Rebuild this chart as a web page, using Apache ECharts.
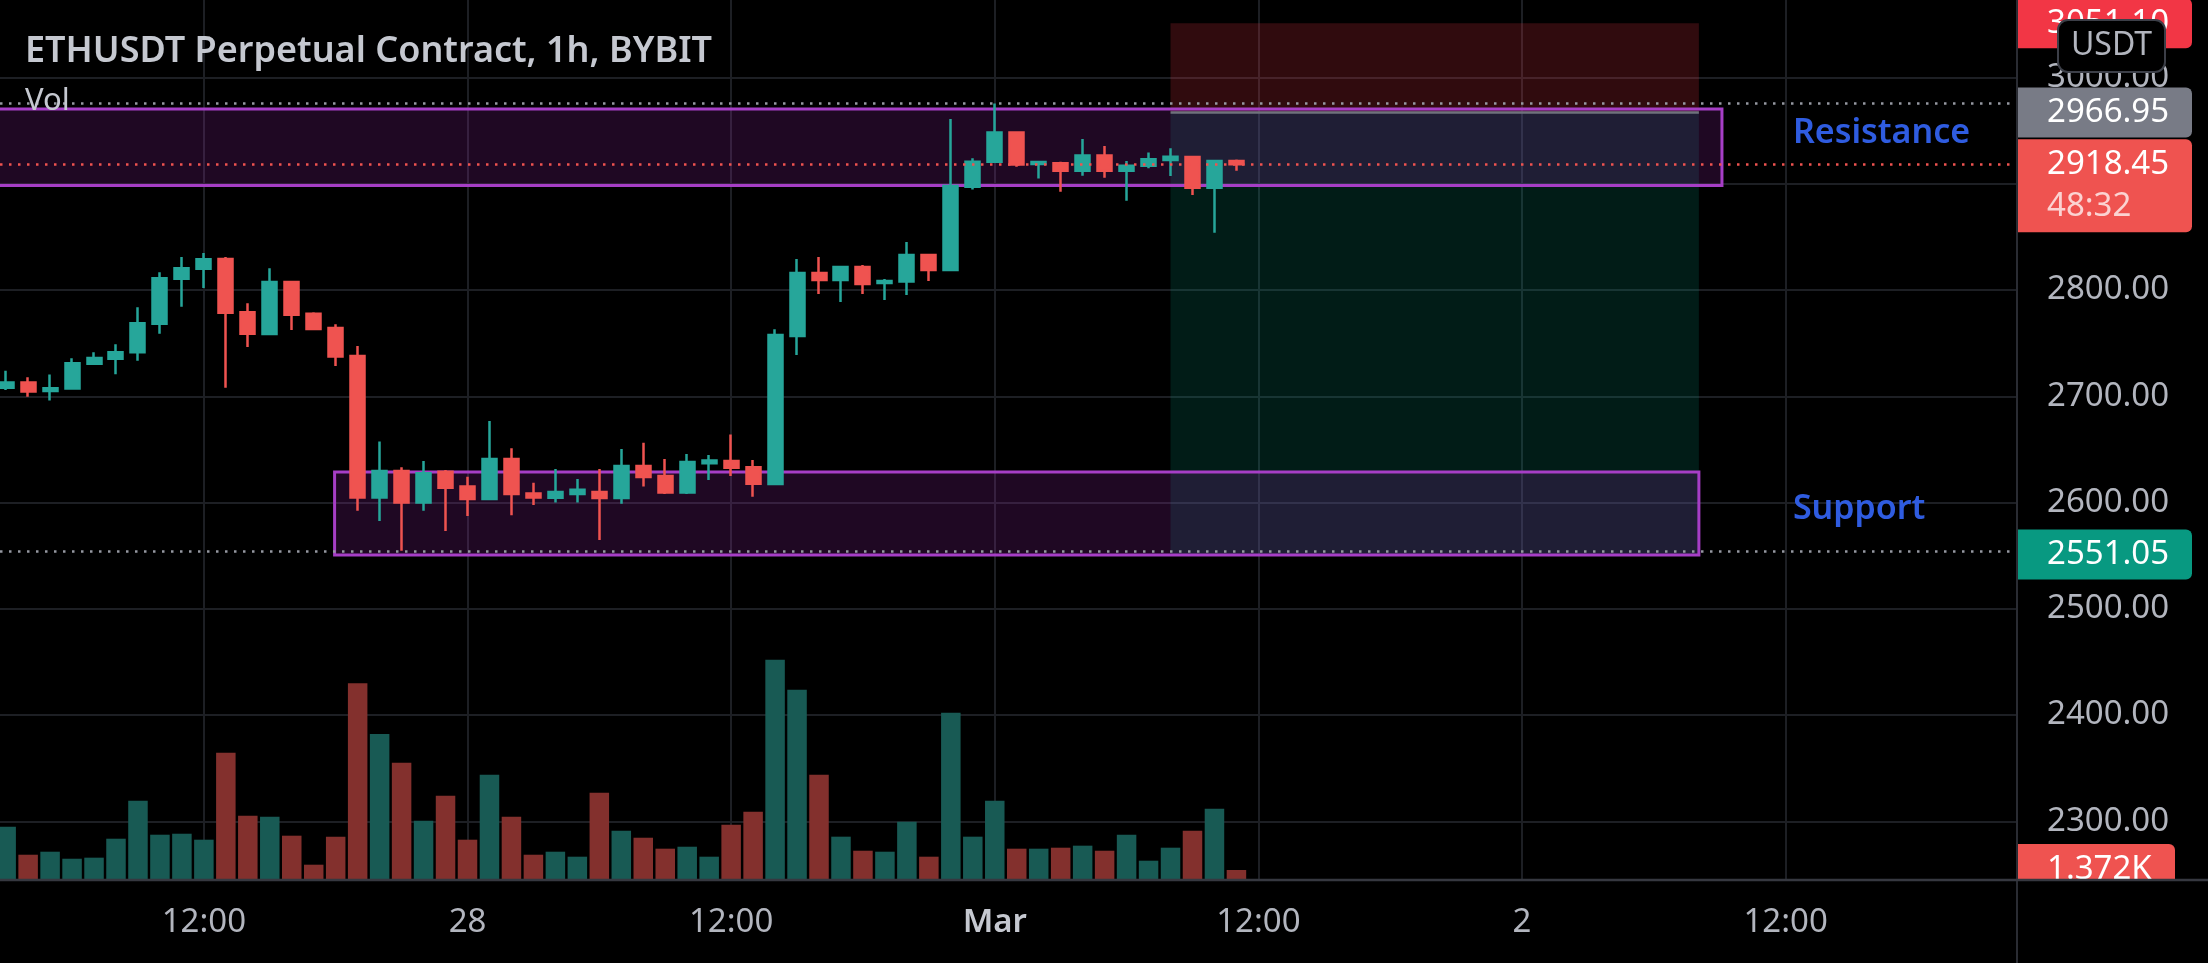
<!DOCTYPE html>
<html>
<head>
<meta charset="utf-8">
<script src="https://cdn.jsdelivr.net/npm/echarts@6.0.0/dist/echarts.min.js"></script>
<style>
html,body{margin:0;padding:0;background:#000;}
#chart{width:2208px;height:963px;}
</style>
</head>
<body>
<div id="chart"></div>
<script>
// ---- data (hours relative to 28 Feb 00:00) ----
const hours = [-21,-20,-19,-18,-17,-16,-15,-14,-13,-12,-11,-10,-9,-8,-7,-6,-5,-4,-3,-2,-1,0,1,2,3,4,5,6,7,8,9,10,11,12,13,14,15,16,17,18,19,20,21,22,23,24,25,26,27,28,29,30,31,32,33,34,35];
const opens = [2708,2713,2705,2707.2,2730.7,2735.4,2741.4,2768.3,2810.7,2820.1,
  2829.2,2779,2758.6,2807.6,2777.7,2764.3,2737.9,2604.6,2629.7,2599.9,
  2629,2615,2603.3,2641,2608.5,2604.5,2608,2609.9,2604.3,2634.4,
  2625,2609.3,2637,2639,2633.1,2617.4,2756.7,2816,2809.4,2821.7,
  2806.5,2807.9,2833,2818.8,2897.2,2920.7,2948.3,2918.5,2919.2,2912.3,
  2926.7,2912.3,2917,2922.3,2925.1,2896.3,2921.4];
const closes = [2713,2704.5,2707.5,2731,2736,2741.4,2768.6,2811,2820.4,2828.9,
  2778.7,2758.9,2807.6,2776.8,2763.3,2737.3,2604.6,2629.7,2599.9,2627.5,
  2614,2603.3,2641,2608,2604.8,2609.8,2611.9,2604.3,2634.4,2624,
  2609.3,2638.2,2639.5,2632.8,2617.6,2757.7,2816,2809.4,2821.7,2805.7,
  2808.5,2833,2818.8,2897.8,2920.7,2948.3,2918.2,2920.5,2912.3,2926.7,
  2912.3,2917,2923,2925.5,2896.3,2921.4,2918.45];
const lows = [2706,2699.5,2696,2706.5,2730,2720.6,2733.5,2758.9,2784.3,2801.9,
  2708.1,2746.4,2757.7,2762.4,2762.4,2728.5,2592.3,2582.6,2554.5,2592.3,
  2573.2,2587.3,2603,2588,2597.7,2599.9,2599.9,2564.7,2598.9,2615,
  2608,2608,2621.2,2625,2605.5,2617,2738.8,2796.3,2788.7,2796.3,
  2790.6,2795.3,2808.5,2818,2894.7,2920,2916,2905,2892.5,2907.6,
  2905.7,2884,2914.5,2907.3,2889.4,2853.9,2912.3];
const highs = [2724,2718,2720.5,2735.7,2741.4,2748.9,2783.7,2816.7,2831.1,2834.8,
  2831.1,2787.5,2820.4,2808,2779,2767.7,2747.3,2657.3,2633.1,2639.1,
  2630.6,2624.3,2676.7,2651,2618.5,2631.5,2622.1,2631.6,2650.4,2656.3,
  2641,2645.7,2644.7,2663.9,2640,2763,2829.2,2831.1,2822,2823.6,
  2810.4,2845.2,2833,2960.9,2923.9,2975.6,2949,2921,2920.7,2942,
  2935.5,2921.4,2929.5,2933.3,2925.1,2921.4,2922.9];
const volumes = [7970,3700,4160,3090,3250,6140,11930,6750,6900,5990,
  19250,9650,9500,6600,2180,6450,29830,22100,17720,8890,
  12700,5990,15900,9500,3700,4160,3400,13150,7360,6290,
  4620,4920,3400,8280,10260,33420,28850,15900,6450,4310,
  4160,8730,3400,25340,6450,11930,4620,4620,4770,5080,
  4310,6750,2790,4770,7360,10710,1372];

const xTickHours = [-12, 0, 12, 24, 36, 48, 60];
const xTickLabels = ['12:00', '28', '12:00', 'Mar', '12:00', '2', '12:00'];
const yTickValues = [2300, 2400, 2500, 2600, 2700, 2800, 2900, 3000];

const lastPrice = 2918.45;
const entryPrice = 2966.95;
const stopPrice = 3051.10;
const targetPrice = 2551.05;
const positionStart = 32;
const positionEnd = 56.05;
const resistanceZone = [-30, 57.1, 2898.4, 2970.4];   // [t1, t2, low, high]
const supportZone = [-6.05, 56.05, 2550.6, 2628.7];
const zoneLabelTexts = ['Resistance', 'Support'];
const zoneLabelAnchors = [[60.33, 2947.0], [60.33, 2593.2]];
const countdownText = '48:32';
const lastVolumeText = '1.372K';

// ---- layout / style constants ----
const X_MIN = -21.28, X_MAX = 70.53;
const Y_MIN = 2245.65, Y_MAX = 3072.94;
const VOL_MAX = 133960;
const UP = '#26a69a', DOWN = '#ef5350';
const UP_VOL = '#185a54', DOWN_VOL = '#83302d';
const FONT = '"Noto Sans", sans-serif';
const AXIS_TXT = '#b2b5be';
const GRID_LINE = '#1d1f24';

const candleData = hours.map((t, i) => [t, opens[i], closes[i], lows[i], highs[i]]);
const volumeData = hours.map((t, i) => [t, volumes[i]]);
const maxHigh = Math.max.apply(null, highs);
const minLow = Math.min.apply(null, lows);

function zoneRect(api, t1, t2, lo, hi) {
  const a = api.coord([t1, hi]);
  const b = api.coord([t2, lo]);
  return { x: a[0], y: a[1], width: b[0] - a[0], height: b[1] - a[1] };
}

const positionFills = ['rgba(242,54,69,0.2)', 'rgba(8,153,129,0.18)'];
const tagPrices = [stopPrice, entryPrice, lastPrice, targetPrice];
const tagColors = ['#f23645', '#787b86', '#ef5350', '#089981'];

const chart = echarts.init(document.getElementById('chart'), null, { renderer: 'canvas' });

const option = {
  backgroundColor: '#000000',
  animation: false,
  textStyle: { fontFamily: FONT },
  grid: [{ left: 0, right: 191, top: 0, bottom: 84, containLabel: false, outerBoundsMode: 'none' }],
  xAxis: [{
    type: 'value', min: X_MIN, max: X_MAX,
    axisLine: { show: false },
    axisTick: { show: false, customValues: xTickHours },
    axisLabel: {
      customValues: xTickHours,
      color: AXIS_TXT, fontSize: 33, fontFamily: FONT, margin: 27,
      formatter: function (v) {
        const i = xTickHours.indexOf(Math.round(v));
        if (i < 0) return '';
        const s = xTickLabels[i];
        return s === 'Mar' ? '{b|' + s + '}' : s;
      },
      rich: { b: { fontSize: 33, fontFamily: FONT, fontWeight: 600, color: '#c5c8d0' } }
    },
    splitLine: { show: true, lineStyle: { color: GRID_LINE, width: 2 } }
  }],
  yAxis: [{
    type: 'value', position: 'right', min: Y_MIN, max: Y_MAX,
    axisLine: { show: false },
    axisTick: { show: false, customValues: yTickValues },
    axisLabel: {
      customValues: yTickValues,
      color: AXIS_TXT, fontSize: 33, fontFamily: FONT, margin: 30,
      formatter: v => v.toFixed(2)
    },
    splitLine: { show: true, lineStyle: { color: GRID_LINE, width: 2 } }
  }, {
    type: 'value', min: 0, max: VOL_MAX, show: false, splitLine: { show: false }
  }],
  series: [
    {
      name: 'position', type: 'custom', clip: true, z: 1, silent: true,
      data: [[positionStart, positionEnd, entryPrice, stopPrice], [positionStart, positionEnd, targetPrice, entryPrice]],
      renderItem: function (params, api) {
        return { type: 'rect', shape: zoneRect(api, api.value(0), api.value(1), api.value(2), api.value(3)),
          style: { fill: positionFills[params.dataIndex] } };
      }
    },
    {
      name: 'zones', type: 'custom', clip: true, z: 1, silent: true,
      data: [resistanceZone, supportZone],
      renderItem: function (params, api) {
        return { type: 'rect', shape: zoneRect(api, api.value(0), api.value(1), api.value(2), api.value(3)),
          style: { fill: 'rgba(156,39,176,0.2)', stroke: '#a63ec6', lineWidth: 3 } };
      }
    },
    {
      name: 'entry', type: 'custom', clip: true, z: 1, silent: true,
      data: [[positionStart, positionEnd, entryPrice]],
      renderItem: function (params, api) {
        const a = api.coord([api.value(0), api.value(2)]);
        const b = api.coord([api.value(1), api.value(2)]);
        return { type: 'line', shape: { x1: a[0], y1: a[1], x2: b[0], y2: b[1] },
          style: { stroke: '#6f727c', lineWidth: 2.5 } };
      }
    },
    {
      name: 'Vol', type: 'bar', xAxisIndex: 0, yAxisIndex: 1, z: 2, barWidth: 19.5,
      data: volumeData,
      itemStyle: {
        color: function (p) { return closes[p.dataIndex] >= opens[p.dataIndex] ? UP_VOL : DOWN_VOL; }
      }
    },
    {
      name: 'ETHUSDT', type: 'candlestick', z: 3, barWidth: 14.5,
      dimensions: ['t', 'open', 'close', 'lowest', 'highest'],
      encode: { x: 't', y: ['open', 'close', 'lowest', 'highest'] },
      data: candleData,
      itemStyle: { color: UP, color0: DOWN, borderColor: UP, borderColor0: DOWN, borderWidth: 2.5 },
      markLine: {
        silent: true, symbol: ['none', 'none'], animation: false,
        label: { show: false },
        lineStyle: { type: [2.5, 6.5], width: 2.5 },
        data: [
          { yAxis: maxHigh, lineStyle: { color: '#9598a1', type: [2.5, 6.5], width: 2.5 } },
          { yAxis: minLow, lineStyle: { color: '#9598a1', type: [2.5, 6.5], width: 2.5 } },
          { yAxis: lastPrice, lineStyle: { color: '#ef5350', type: [2.5, 6.5], width: 2.5 } }
        ]
      }
    },
    {
      name: 'zoneLabels', type: 'custom', clip: false, z: 4, silent: true,
      data: zoneLabelAnchors,
      renderItem: function (params, api) {
        const p = api.coord([api.value(0), api.value(1)]);
        return { type: 'text', style: { text: zoneLabelTexts[params.dataIndex], x: p[0], y: p[1],
          fill: '#2f5ce0', font: '600 34px ' + FONT, align: 'left', verticalAlign: 'middle' } };
      }
    },
    {
      name: 'priceTags', type: 'custom', clip: false, z: 5, silent: true,
      data: tagPrices.map(p => [X_MAX, p]),
      renderItem: function (params, api) {
        const i = params.dataIndex;
        const p = api.coord([api.value(0), api.value(1)]);
        const x = p[0] - 1, y = p[1];
        const isLast = tagPrices[i] === lastPrice;
        const top = y - 25, h = isLast ? 93 : 50;
        const children = [
          { type: 'rect', shape: { x: x, y: top, width: 176, height: h, r: [0, 6, 6, 0] }, style: { fill: tagColors[i] } },
          { type: 'text', style: { text: tagPrices[i].toFixed(2), x: x + 31, y: y, fill: '#ffffff',
            font: '33px ' + FONT, align: 'left', verticalAlign: 'middle' } }
        ];
        if (isLast) {
          children.push({ type: 'text', style: { text: countdownText, x: x + 31, y: y + 42, fill: '#fbd3d2',
            font: '33px ' + FONT, align: 'left', verticalAlign: 'middle' } });
        }
        return { type: 'group', children: children };
      }
    },
    {
      name: 'volTag', type: 'custom', clip: false, z: 5, silent: true,
      xAxisIndex: 0, yAxisIndex: 1,
      data: [[X_MAX, volumes[volumes.length - 1]]],
      renderItem: function (params, api) {
        const p = api.coord([api.value(0), api.value(1)]);
        const cs = params.coordSys;
        const bottom = cs.y + cs.height;
        const x = p[0] - 1, y = p[1];
        return {
          type: 'group',
          clipPath: { type: 'rect', shape: { x: x, y: y - 40, width: 200, height: bottom - (y - 40) } },
          children: [
            { type: 'rect', shape: { x: x, y: y - 26, width: 159, height: 52, r: [0, 6, 6, 0] }, style: { fill: '#ef5350' } },
            { type: 'text', style: { text: lastVolumeText, x: x + 31, y: y, fill: '#ffffff',
              font: '33px ' + FONT, align: 'left', verticalAlign: 'middle' } }
          ]
        };
      }
    }
  ],
  graphic: [
    { type: 'line', z: 50, silent: true, shape: { x1: 2017, y1: 0, x2: 2017, y2: 963 }, style: { stroke: '#2a2c33', lineWidth: 2 } },
    { type: 'line', z: 50, silent: true, shape: { x1: 0, y1: 880, x2: 2208, y2: 880 }, style: { stroke: '#363840', lineWidth: 2.5 } },
    { type: 'text', z: 60, silent: true, style: { text: 'ETHUSDT Perpetual Contract, 1h, BYBIT', x: 25, y: 52,
      font: '600 36px ' + FONT, fill: '#c5c8d0', align: 'left', verticalAlign: 'middle' } },
    { type: 'text', z: 60, silent: true, style: { text: 'Vol', x: 25, y: 101,
      font: '31px ' + FONT, fill: '#c5c8d0', align: 'left', verticalAlign: 'middle' } },
    { type: 'rect', z: 100, silent: true, shape: { x: 2058, y: 20, width: 107, height: 52, r: 10 },
      style: { fill: '#000000', stroke: '#3c3f48', lineWidth: 2 } },
    { type: 'text', z: 101, silent: true, style: { text: 'USDT', x: 2111.5, y: 46,
      font: '32px ' + FONT, fill: AXIS_TXT, align: 'center', verticalAlign: 'middle' } }
  ]
};

chart.setOption(option);
</script>
</body>
</html>
